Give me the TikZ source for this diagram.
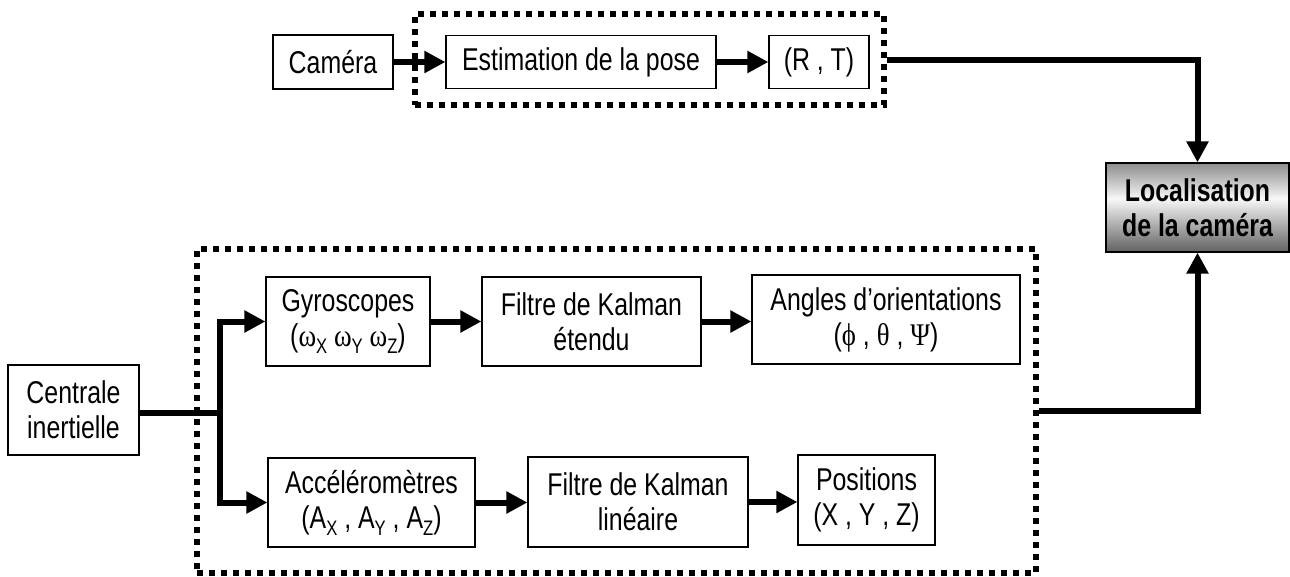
\documentclass[tikz,border=0pt]{standalone}
\usepackage{fontspec}
\setmainfont{Liberation Sans}[FakeStretch=0.79]
\newfontfamily\grk{Liberation Serif}[FakeStretch=0.85]
\usetikzlibrary{arrows.meta}
\newcommand{\lowsub}[1]{\raisebox{-7pt}{\fontsize{21}{21}\selectfont #1}}
\pgfdeclareverticalshading{locshade}{100bp}{color(0bp)=(black!62); color(25bp)=(black!62); color(55bp)=(black!3); color(75bp)=(black!45); color(100bp)=(black!45)}
\tikzset{
  box/.style={draw, line width=1.2pt, inner sep=0pt, align=center, fill=white},
  grp/.style={draw, line width=5.5pt, dash pattern=on 6pt off 6pt, inner sep=0pt},
  flow/.style={line width=6pt, -{Triangle[length=21pt,width=21pt]}},
  plain/.style={line width=6pt},
}
\begin{document}
\begin{tikzpicture}[x=1pt, y=-1pt, font=\fontsize{31.5}{35}\selectfont]
\useasboundingbox (0,0) rectangle (1290,576);
% groups
\node[grp, minimum width=469pt, minimum height=91pt] (topgrp) at (649.5,59.5) {};
\node[grp, minimum width=839pt, minimum height=324pt] (lowgrp) at (616.5,411) {};
% top row
\node[box, minimum width=120pt, minimum height=54pt] (cam) at (333,62) {Caméra};
\node[box, minimum width=270pt, minimum height=53pt] (est) at (581,62) {Estimation de la pose};
\node[box, minimum width=100pt, minimum height=53pt] (rt) at (819,62) {(R , T)};
% localisation
\node[box, minimum width=183pt, minimum height=89pt, shading=locshade, font=\fontsize{31.5}{35}\selectfont\bfseries] (loc) at (1197.5,207.5) {Localisation\\de la caméra};
% inertial
\node[box, minimum width=131pt, minimum height=90pt] (cent) at (73.5,410) {Centrale\\inertielle};
\node[box, minimum width=164pt, minimum height=89pt] (gyro) at (348,321.5) {Gyroscopes\\({\grk ω}\lowsub{X} {\grk ω}\lowsub{Y} {\grk ω}\lowsub{Z})};
\node[box, minimum width=219pt, minimum height=89pt] (ekf) at (591.5,321.5) {Filtre de Kalman\\étendu};
\node[box, minimum width=268pt, minimum height=89pt] (ang) at (886,319.5) {Angles d’orientations\\({\grk ϕ} , {\grk θ} , {\grk Ψ})};
\node[box, minimum width=207pt, minimum height=89pt] (acc) at (371.5,502.5) {Accéléromètres\\(A\lowsub{X} , A\lowsub{Y} , A\lowsub{Z})};
\node[box, minimum width=220pt, minimum height=90pt] (lkf) at (638,502) {Filtre de Kalman\\linéaire};
\node[box, minimum width=137pt, minimum height=90pt] (pos) at (866.5,500) {Positions\\(X , Y , Z)};
\coordinate (split) at (220,413);
% connectors
\draw[flow] (cam.east) -- (est.west);
\draw[flow] (est.east) -- (rt.west);
\draw[plain] (cent.east |- split) -- (split);
\draw[flow] (split) |- (gyro.west);
\draw[flow] (split) |- (acc.west);
\draw[flow] (gyro.east) -- (ekf.west);
\draw[flow] (ekf.east) -- (ang.west |- ekf.east);
\draw[flow] (acc.east) -- (lkf.west |- acc.east);
\draw[flow] (lkf.east) -- (pos.west |- lkf.east);
\draw[flow] (topgrp.east) -| (loc.north);
\draw[flow] (lowgrp.east) -| (loc.south);
\end{tikzpicture}
\end{document}
